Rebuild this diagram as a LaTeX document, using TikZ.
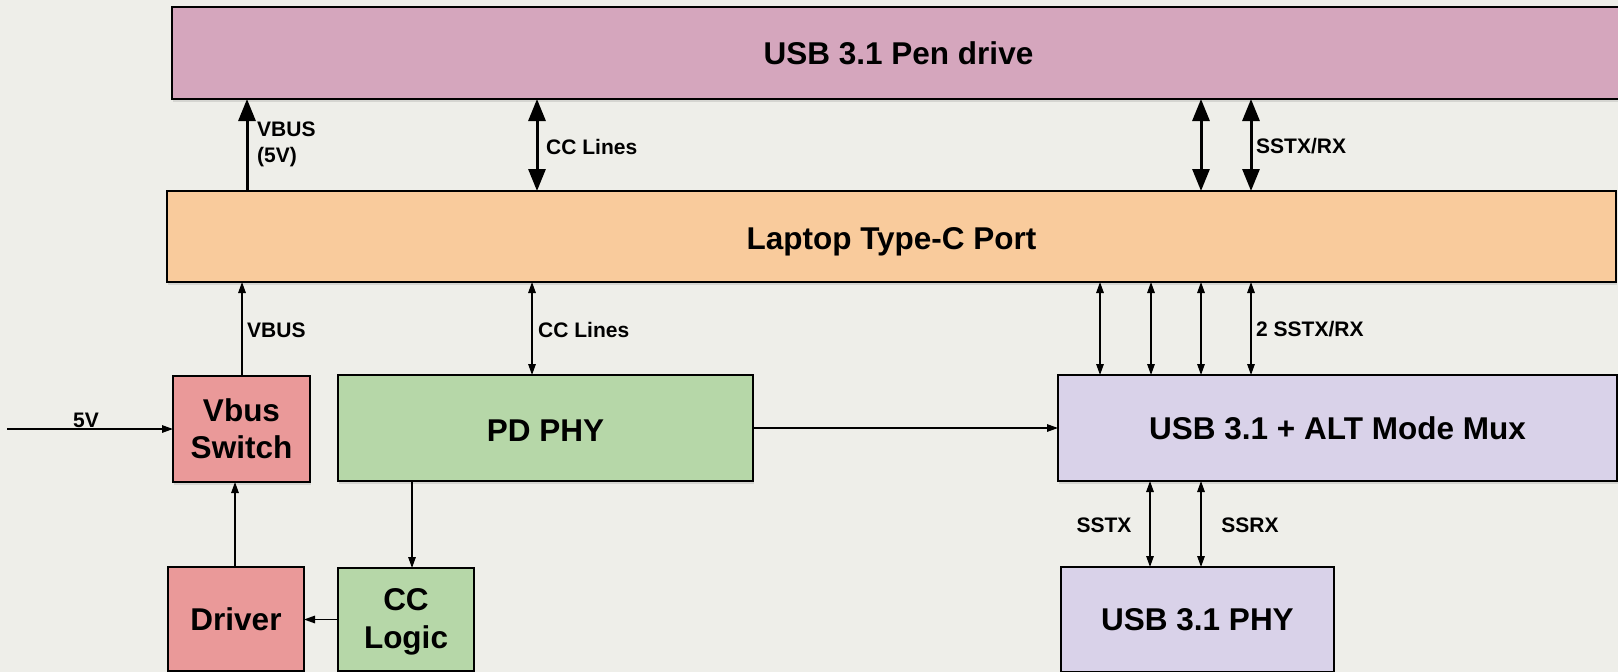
\documentclass[tikz,border=0pt]{standalone}
\usepackage{fontspec}
\setmainfont{Liberation Sans}
\usetikzlibrary{arrows.meta,shadows}
\definecolor{bgcol}{RGB}{238,238,233}
\definecolor{pencol}{HTML}{D5A6BD}
\definecolor{portcol}{HTML}{F9CB9C}
\definecolor{redcol}{HTML}{EA9999}
\definecolor{greencol}{HTML}{B6D7A8}
\definecolor{purplecol}{HTML}{D9D2E9}
% move a caption down without changing the box that the node centres
\newcommand{\lowered}[2]{\raisebox{-#1pt}[\height][\depth]{#2}}
\begin{document}
\begin{tikzpicture}[x=1pt,y=-1pt,
  block/.style={draw=black, line width=1.5pt, inner sep=0pt, outer sep=0pt,
    align=center, font=\fontsize{31.5}{37}\selectfont\bfseries,
    drop shadow={shadow xshift=1pt, shadow yshift=-2.5pt, opacity=0.22}},
  lbl/.style={inner sep=0pt, font=\fontsize{21}{26}\selectfont\bfseries, align=left},
  thinarrow/.style={line width=1.4pt, -{Triangle[length=11pt,width=7.5pt]}},
  thinboth/.style={line width=1.4pt, {Triangle[length=11pt,width=7.5pt]}-{Triangle[length=11pt,width=7.5pt]}},
  thickarrow/.style={line width=3pt, -{Triangle[length=22pt,width=17pt]}},
  thickboth/.style={line width=3pt, {Triangle[length=22pt,width=17pt]}-{Triangle[length=22pt,width=17pt]}},
]
% canvas
\fill[bgcol] (0,0) rectangle (1618,672);
\useasboundingbox (0,0) rectangle (1618,672);

% blocks
\node[block, fill=pencol, minimum width=1453pt, minimum height=92pt] (pen) at (898.5,53) {USB 3.1 Pen drive};
\node[block, fill=portcol, minimum width=1449pt, minimum height=91pt] (port) at (891.5,236.5) {\lowered{5}{Laptop Type-C Port}};
\node[block, fill=redcol, minimum width=137pt, minimum height=106pt] (vsw) at (241.5,429) {Vbus\\Switch};
\node[block, fill=greencol, minimum width=415pt, minimum height=106pt] (pd) at (545.5,428) {\lowered{3}{PD PHY}};
\node[block, fill=purplecol, minimum width=559pt, minimum height=106pt] (mux) at (1337.5,428) {USB 3.1 + ALT Mode Mux};
\node[block, fill=redcol, minimum width=136pt, minimum height=104pt] (drv) at (236,619) {Driver};
\node[block, fill=greencol, minimum width=136pt, minimum height=103pt] (ccl) at (406,619.5)
  {\lowered{3}{\begin{tabular}{@{}c@{}}CC\\[1pt]Logic\end{tabular}}};
\node[block, fill=purplecol, minimum width=273pt, minimum height=105pt] (phy) at (1197.5,619.5) {USB 3.1 PHY};

% connector columns
\coordinate (cVbusUp) at (247,0);
\coordinate (cCcUp) at (537,0);
\coordinate (cSsA) at (1201,0);
\coordinate (cSsB) at (1251,0);
\coordinate (cVbusLo) at (242,0);
\coordinate (cCcLo) at (532,0);
\coordinate (cMuxA) at (1100,0);
\coordinate (cMuxB) at (1151,0);
\coordinate (cMuxC) at (1201,0);
\coordinate (cMuxD) at (1251,0);
\coordinate (cPdCc) at (412,0);
\coordinate (cDrv) at (235,0);
\coordinate (cTx) at (1150,0);
\coordinate (cRx) at (1201,0);
\coordinate (in5) at (7,429);

% port <-> pen drive
\draw[thickarrow] (port.north -| cVbusUp) -- (pen.south -| cVbusUp);
\draw[thickboth] (port.north -| cCcUp) -- (pen.south -| cCcUp);
\draw[thickboth] (port.north -| cSsA) -- (pen.south -| cSsA);
\draw[thickboth] (port.north -| cSsB) -- (pen.south -| cSsB);
\node[lbl, anchor=west] (lVbusUp) at (257,144) {VBUS\\(5V)};
\node[lbl, anchor=west] (lCcUp) at (546,147) {CC Lines};
\node[lbl, anchor=west] (lSsUp) at (1256,146) {SSTX/RX};

% port <-> lower blocks
\draw[thinarrow] (vsw.north -| cVbusLo) -- (port.south -| cVbusLo);
\draw[thinboth] (pd.north -| cCcLo) -- (port.south -| cCcLo);
\draw[thinboth] (mux.north -| cMuxA) -- (port.south -| cMuxA);
\draw[thinboth] (mux.north -| cMuxB) -- (port.south -| cMuxB);
\draw[thinboth] (mux.north -| cMuxC) -- (port.south -| cMuxC);
\draw[thinboth] (mux.north -| cMuxD) -- (port.south -| cMuxD);
\node[lbl, anchor=west] (lVbusLo) at (247,330) {VBUS};
\node[lbl, anchor=west] (lCcLo) at (538,330) {CC Lines};
\node[lbl, anchor=west] (lSsLo) at (1256,329) {2 SSTX/RX};

% power path and control
\draw[thinarrow] (in5) -- (vsw.west);
\node[lbl] (l5v) at (86,420) {5V};
\draw[thinarrow] (pd.east) -- (mux.west);
\draw[thinarrow] (pd.south -| cPdCc) -- (ccl.north -| cPdCc);
\draw[thinarrow] (drv.north -| cDrv) -- (vsw.south -| cDrv);
\draw[thinarrow] (ccl.west) -- (ccl.west -| drv.east);

% mux <-> usb phy
\draw[thinboth] (mux.south -| cTx) -- (phy.north -| cTx);
\draw[thinboth] (mux.south -| cRx) -- (phy.north -| cRx);
\node[lbl] (lTx) at (1104,525) {SSTX};
\node[lbl] (lRx) at (1250,525) {SSRX};
\end{tikzpicture}
\end{document}
